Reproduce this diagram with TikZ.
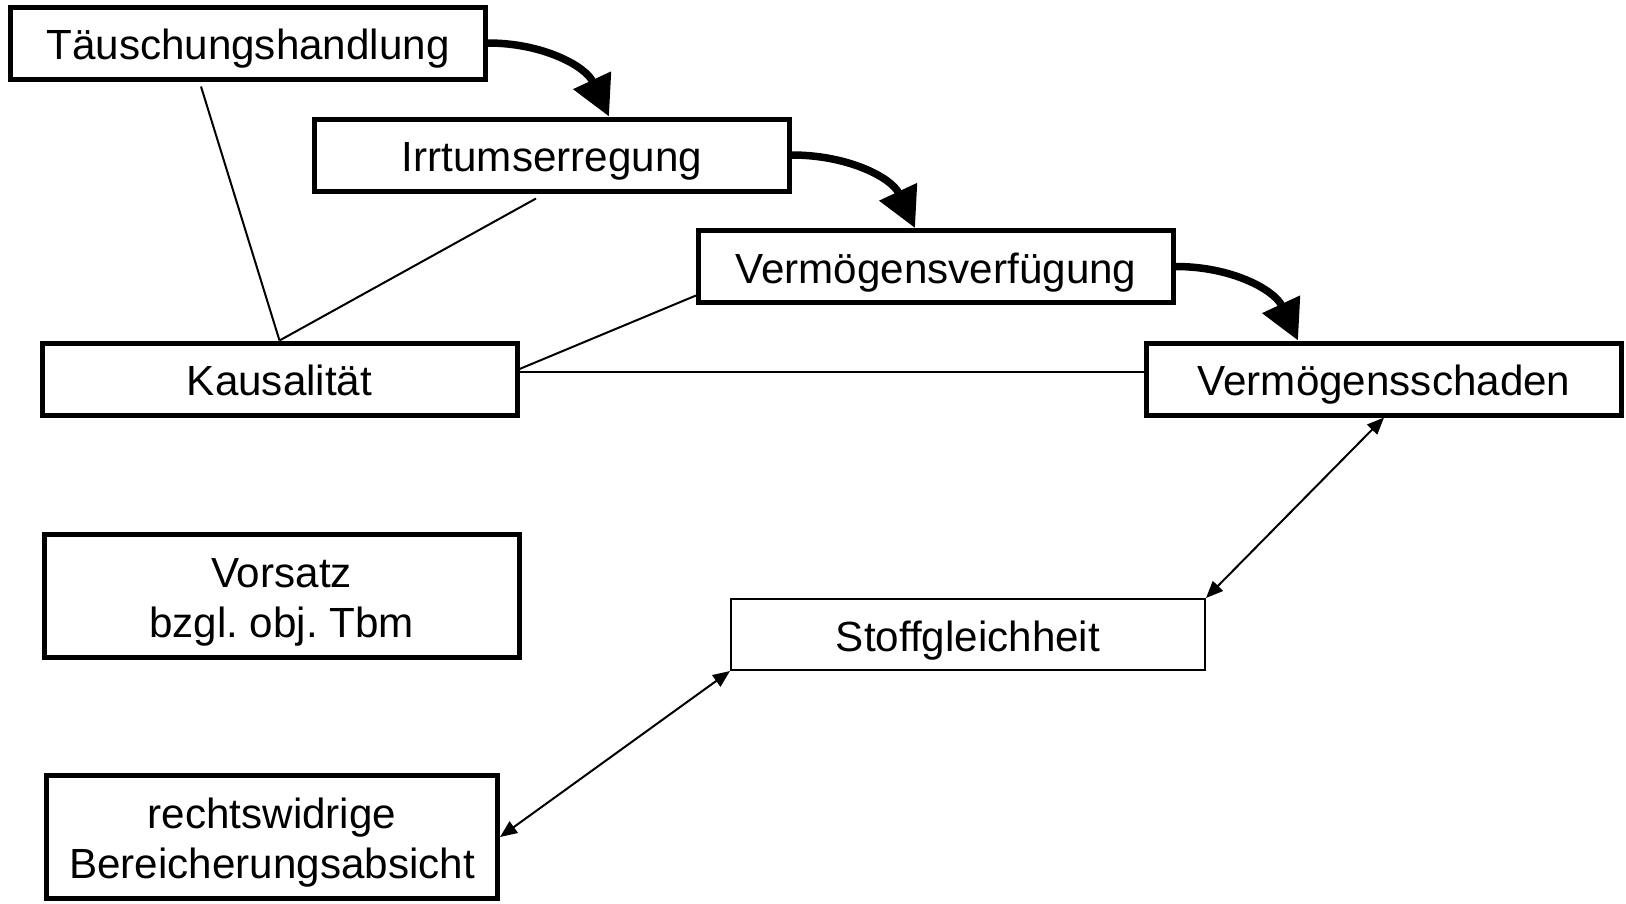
\documentclass[tikz,border=0pt]{standalone}
\usepackage{fontspec}
\setmainfont{Liberation Sans}
\usetikzlibrary{arrows.meta,positioning}
\frenchspacing

\begin{document}
\begin{tikzpicture}[
		bx/.style={rectangle, draw, line width=0.05cm, inner sep=0pt, minimum width=4.75cm, minimum height=0.72cm, align=center, text height=9.6pt, text depth=0pt, font=\fontsize{12}{14.2}\selectfont},
		bx2/.style={bx, minimum height=1.23cm, text height=23.8pt},
		tbx/.style={bx, line width=0.02cm, minimum width=4.74cm, minimum height=0.71cm},
		ln/.style={line width=0.02cm},
		pf/.style={line width=0.075cm, line cap=round, -{Triangle[length=4mm, width=4mm]}},
		dp/.style={line width=0.02cm, {Triangle[length=1.7mm, width=1.4mm]}-{Triangle[length=1.7mm, width=1.4mm]}}
		]
		\useasboundingbox (0,0) rectangle (16.26,-9.03);
		\node[bx] (tae) at (2.48,-0.43) {Täuschungshandlung};
		\node[bx] (irr) at (5.52,-1.55) {Irrtumserregung};
		\node[bx] (vfg) at (9.36,-2.665) {Vermögensverfügung};
		\node[bx] (kaus) at (2.795,-3.79) {Kausalität};
		\node[bx] (sch) at (13.84,-3.79) {Vermögensschaden};
		\node[bx2] (vor) at (2.815,-5.96) {Vorsatz\\bzgl. obj. Tbm};
		\node[tbx] (stoff) at (9.68,-6.345) {Stoffgleichheit};
		\node[bx2, minimum width=4.51cm] (rw) at (2.72,-8.37) {rechtswidrige\\Bereicherungsabsicht};
		\draw[pf] (tae.east) to[out=0, in=115] ([xshift=5.7mm]irr.north);
		\draw[pf] (irr.east) to[out=0, in=115] ([xshift=-2.1mm]vfg.north);
		\draw[pf] (vfg.east) to[out=0, in=115] ([xshift=-8.6mm]sch.north);
		\draw[ln] (kaus.north) -- ([xshift=-4.7mm, yshift=-0.5mm]tae.south);
		\draw[ln] (kaus.north) -- ([xshift=-1.6mm, yshift=-0.5mm]irr.south);
		\draw[ln] ([yshift=1mm]kaus.east) -- ([yshift=-2.9mm]vfg.west);
		\draw[ln] ([yshift=0.7mm]kaus.east) -- ([yshift=0.7mm]sch.west);
		\draw[dp] (sch.south) -- (stoff.north east);
		\draw[dp] (stoff.south west) -- (rw.east);
	\end{tikzpicture}
\end{document}
